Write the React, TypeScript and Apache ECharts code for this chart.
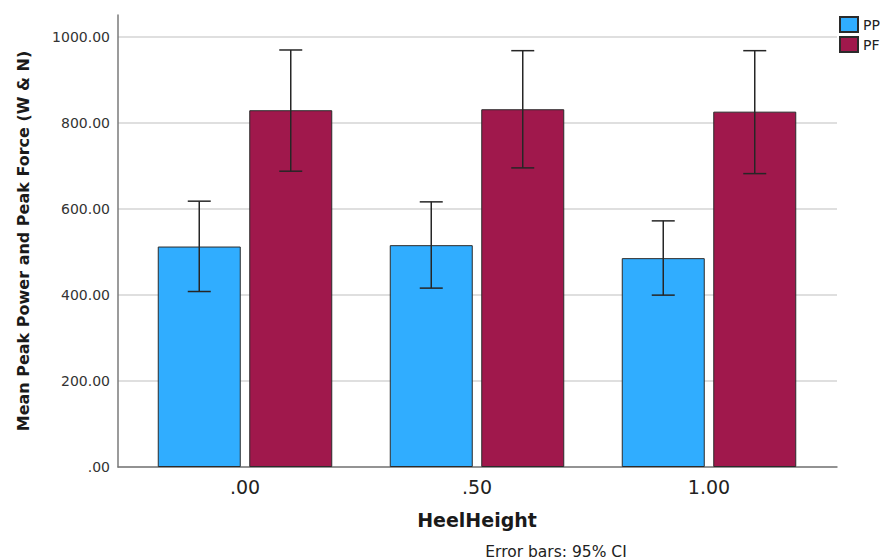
import React, { useEffect, useRef } from "react";
import * as echarts from "echarts";

const categories = [".00", ".50", "1.00"];
const seriesNames = ["PP", "PF"];
const ppMean = [512.7, 515.9, 485.7];
const ppLow = [408.1, 416.0, 399.7];
const ppHigh = [618.2, 616.6, 572.4];
const pfMean = [829.7, 832.0, 826.4];
const pfLow = [687.9, 695.6, 682.3];
const pfHigh = [969.8, 968.2, 968.2];
const yTicks = [0, 200, 400, 600, 800, 1000];

const FONT = "DejaVu Sans";
const BAR_W = 83;
const GAP_PX = 8.5;
const PP_COLOR = "#30adff";
const PF_COLOR = "#a0184c";

function fmt(v: number): string {
  const s = v.toFixed(2);
  return s.startsWith("0") ? s.slice(1) : s;
}

function errorSeries(low: number[], high: number[], sign: number) {
  const data = low.map((l, i) => [i, l, high[i]]);
  return {
    type: "custom",
    xAxisIndex: 2,
    yAxisIndex: 2,
    z: 10,
    silent: true,
    encode: { x: 0, y: [1, 2] },
    data,
    renderItem: (params: any, api: any) => {
      const idx = api.value(0);
      const top = api.coord([idx, api.value(2)]);
      const bot = api.coord([idx, api.value(1)]);
      const x = top[0] + sign * (BAR_W + GAP_PX) / 2;
      const cap = 11.5;
      const style = { stroke: "#262626", lineWidth: 1.5 };
      return {
        type: "group",
        children: [
          { type: "line", shape: { x1: x, y1: top[1], x2: x, y2: bot[1] }, style },
          { type: "line", shape: { x1: x - cap, y1: top[1], x2: x + cap, y2: top[1] }, style },
          { type: "line", shape: { x1: x - cap, y1: bot[1], x2: x + cap, y2: bot[1] }, style },
        ],
      };
    },
  };
}

export default function App() {
  const ref = useRef<HTMLDivElement>(null);
  useEffect(() => {
    if (!ref.current) return;
    const chart = echarts.init(ref.current, undefined, { renderer: "svg" });
    const option: any = {
      animation: false,
      backgroundColor: "#ffffff",
      textStyle: { fontFamily: FONT },
      grid: [
        { left: 118, right: 43, top: 15, bottom: 93 },
        { left: 118, right: 43, top: 37, bottom: 93 },
        { left: 129, right: 55, top: 37, bottom: 93 },
      ],
      legend: {
        data: seriesNames,
        orient: "vertical",
        left: 839,
        top: 16,
        padding: 0,
        icon: "rect",
        itemWidth: 18,
        itemHeight: 15,
        itemGap: 3,
        textStyle: { fontFamily: FONT, fontSize: 14, color: "#222", lineHeight: 15 },
      },
      xAxis: [
        {
          gridIndex: 0, type: "value", min: 0, max: 1,
          axisLine: { show: true, lineStyle: { color: "#7a7a7a", width: 1.5 } },
          axisTick: { show: false }, axisLabel: { show: false }, splitLine: { show: false },
        },
        {
          gridIndex: 1, type: "value", min: 0, max: 1, show: false,
        },
        {
          gridIndex: 2, type: "category", data: categories,
          axisLine: { show: false }, axisTick: { show: false },
          axisLabel: { fontFamily: FONT, fontSize: 19, color: "#222", margin: 10 },
          name: "HeelHeight", nameLocation: "middle", nameGap: 43,
          nameTextStyle: { fontFamily: FONT, fontSize: 19, fontWeight: "bold", color: "#1a1a1a" },
        },
      ],
      yAxis: [
        {
          gridIndex: 0, type: "value", min: 0, max: 1050,
          axisLine: { show: true, lineStyle: { color: "#7a7a7a", width: 1.5 } },
          axisTick: { show: false }, axisLabel: { show: false }, splitLine: { show: false },
          name: "Mean Peak Power and Peak Force (W & N)",
          nameLocation: "middle", nameRotate: 90, nameGap: 87,
          nameTextStyle: { fontFamily: FONT, fontSize: 16, fontWeight: "bold", color: "#1a1a1a" },
        },
        {
          gridIndex: 1, type: "value", min: yTicks[0], max: yTicks[yTicks.length - 1], interval: 200,
          axisLine: { show: false }, axisTick: { show: false },
          axisLabel: { fontFamily: FONT, fontSize: 14, color: "#333", margin: 8, formatter: (v: number) => fmt(v) },
          splitLine: { show: true, lineStyle: { color: "#d4d4d4", width: 1.5 } },
        },
        {
          gridIndex: 2, type: "value", min: yTicks[0], max: yTicks[yTicks.length - 1], show: false,
        },
      ],
      graphic: [
        {
          type: "text", x: 556, y: 552,
          style: {
            text: "Error bars: 95% CI",
            font: `15.5px "${FONT}"`, fill: "#222",
            textAlign: "center", textVerticalAlign: "middle", align: "center", verticalAlign: "middle",
          },
        },
      ],
      series: [
        {
          name: "PP", type: "bar", xAxisIndex: 2, yAxisIndex: 2, data: ppMean,
          barWidth: BAR_W, barGap: `${(GAP_PX / BAR_W) * 100}%`,
          itemStyle: { color: PP_COLOR, borderColor: "#2b2b2b", borderWidth: 1 },
        },
        {
          name: "PF", type: "bar", xAxisIndex: 2, yAxisIndex: 2, data: pfMean,
          barWidth: BAR_W, barGap: `${(GAP_PX / BAR_W) * 100}%`,
          itemStyle: { color: PF_COLOR, borderColor: "#2b2b2b", borderWidth: 1 },
        },
        errorSeries(ppLow, ppHigh, -1),
        errorSeries(pfLow, pfHigh, 1),
      ],
    };
    chart.setOption(option);
    return () => chart.dispose();
  }, []);
  return (
    <div
      ref={ref}
      style={{ position: "fixed", left: 0, top: 0, width: 880, height: 560, background: "#fff" }}
    />
  );
}
